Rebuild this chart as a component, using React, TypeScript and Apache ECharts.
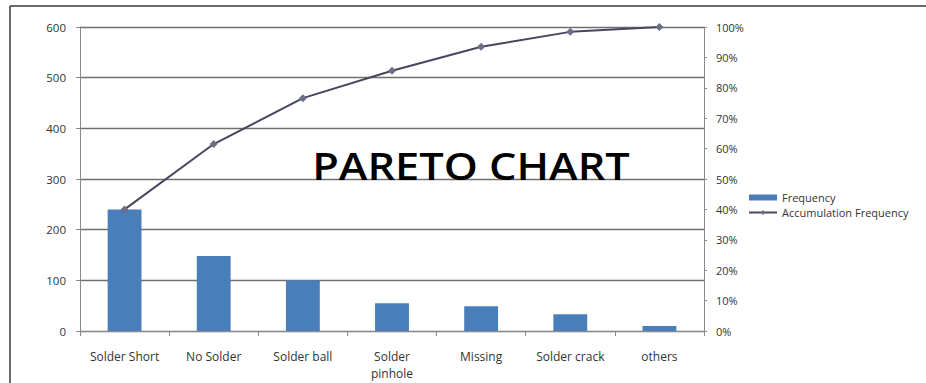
import React, { useEffect, useRef } from "react";
import * as echarts from "echarts";

const categories = ["Solder Short", "No Solder", "Solder ball", "Solder pinhole", "Missing", "Solder crack", "others"];
const frequency = [240, 148, 100, 55, 49, 33, 10];
const accumulation = [40, 61.5, 76.6, 85.6, 93.5, 98.4, 100];
const leftTicks = { min: 0, max: 600, interval: 100 };
const rightTicks = { min: 0, max: 100, interval: 10 };

export default function App() {
  const ref = useRef<HTMLDivElement>(null);
  useEffect(() => {
    const chart = echarts.init(ref.current!, null, { renderer: "svg" });
    const font = "'Open Sans', sans-serif";
    chart.setOption({
      animation: false,
      backgroundColor: "#ffffff",
      grid: { left: 80, right: 222, top: 27, bottom: 52, containLabel: false, outerBoundsMode: "none" },
      legend: {
        orient: "vertical",
        left: 743,
        top: 187,
        itemWidth: 28,
        itemHeight: 6,
        itemGap: 4,
        textStyle: { fontFamily: font, fontSize: 11, color: "#333" },
        data: [
          { name: "Frequency", icon: "rect" },
          { name: "Accumulation Frequency" },
        ],
      },
      xAxis: {
        type: "category",
        data: categories,
        axisLine: { lineStyle: { color: "#8a8a8a", width: 1 } },
        axisTick: { show: true, alignWithLabel: false, length: 5, lineStyle: { color: "#8a8a8a" } },
        axisLabel: {
          interval: 0,
          margin: 17,
          fontFamily: font,
          fontSize: 12,
          color: "#333",
          formatter: (v: string) => (v === "Solder pinhole" ? "Solder\npinhole" : v),
          lineHeight: 17,
        },
      },
      yAxis: [
        {
          type: "value",
          ...leftTicks,
          axisLine: { show: true, lineStyle: { color: "#8a8a8a" } },
          axisTick: { show: true, length: 4, lineStyle: { color: "#8a8a8a" } },
          axisLabel: { fontFamily: font, fontSize: 11.5, color: "#333", margin: 14 },
          splitLine: { show: true, lineStyle: { color: "#6f6f6f", width: 1.3 } },
        },
        {
          type: "value",
          position: "right",
          ...rightTicks,
          axisLine: { show: true, lineStyle: { color: "#8a8a8a" } },
          axisTick: { show: true, length: 3, lineStyle: { color: "#8a8a8a" } },
          axisLabel: { fontFamily: font, fontSize: 11, color: "#333", margin: 12, formatter: "{value}%" },
          splitLine: { show: false },
        },
      ],
      series: [
        {
          name: "Frequency",
          type: "bar",
          data: frequency,
          barWidth: "38%",
          itemStyle: { color: "#4a7ebb" },
          yAxisIndex: 0,
        },
        {
          name: "Accumulation Frequency",
          type: "line",
          data: accumulation,
          yAxisIndex: 1,
          symbol: "diamond",
          symbolSize: 8,
          lineStyle: { color: "#46465e", width: 2 },
          itemStyle: { color: "#6e6e88" },
        },
      ],
      graphic: [
        {
          type: "text",
          x: 471,
          y: 165,
          scaleX: 1.14,
          style: {
            text: "PARETO CHART",
            fontFamily: font,
            fontSize: 38,
            fontWeight: 600,
            fill: "#000",
            textAlign: "center",
            textVerticalAlign: "middle",
          },
          z: 100,
        },
        { type: "line", shape: { x1: 10, y1: 6, x2: 926, y2: 6 }, style: { stroke: "#3a3a3a", lineWidth: 1.5 } },
        { type: "line", shape: { x1: 10, y1: 6, x2: 10, y2: 383 }, style: { stroke: "#3a3a3a", lineWidth: 1.5 } },
      ],
    });
    return () => chart.dispose();
  }, []);
  return <div ref={ref} style={{ width: 926, height: 383, position: "absolute", left: 0, top: 0 }} />;
}
